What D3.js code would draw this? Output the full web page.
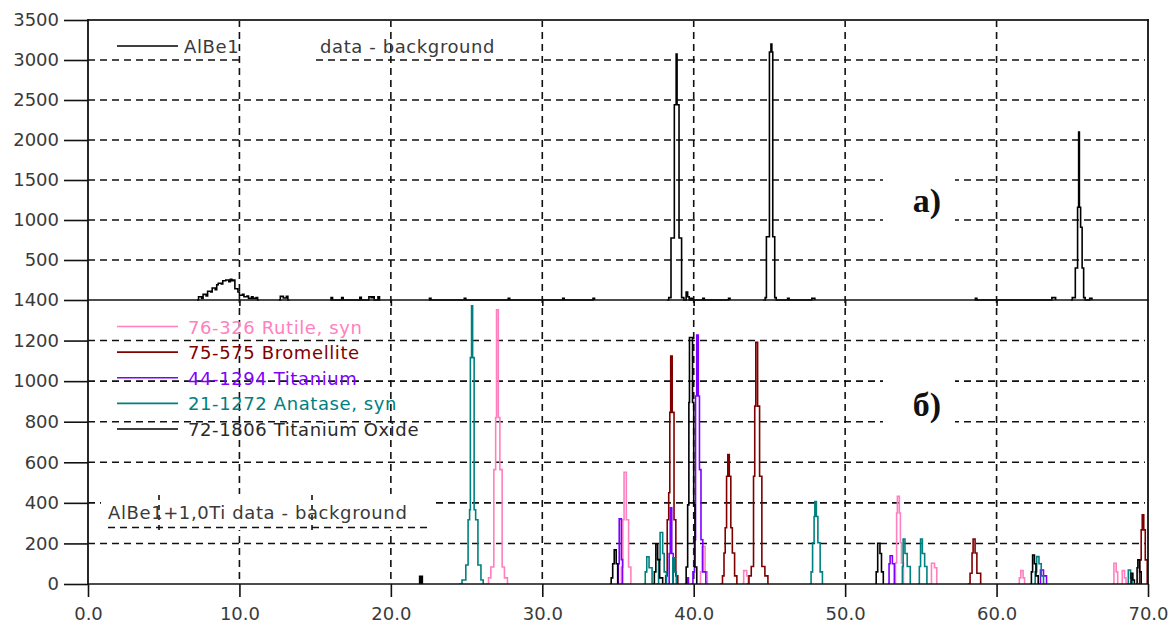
<!DOCTYPE html>
<html><head><meta charset="utf-8">
<script src="https://cdn.jsdelivr.net/npm/d3@7"></script>
<style>
html,body{margin:0;padding:0;background:#fff;}
svg{display:block;}
</style></head>
<body><svg id="chart" width="1169" height="625"></svg>
<script>
// ---------- DATA ----------
const xTicks = [0, 10, 20, 30, 40, 50, 60, 70];
const topTicks = [500, 1000, 1500, 2000, 2500, 3000, 3500];
const bottomTicks = [0, 200, 400, 600, 800, 1000, 1200, 1400];

const topLegend = ["AlBe1", "data - background"];
const panelLabels = ["a)", "б)"];
const bottomCaption = "AlBe1+1,0Ti data - background";

// (a) AlBe1 data - background : [2theta, counts], drawn as step outline
const alBe1 = [
  [[7.2,0],[7.3,40],[7.5,20],[7.6,70],[7.8,50],[7.9,110],[8.1,100],[8.2,150],[8.4,130],[8.5,190],[8.6,210],[8.8,200],[8.9,240],[9.1,250],[9.3,230],[9.4,260],[9.5,240],[9.6,250],[9.7,140],[9.9,100],[10.0,60],[10.2,70],[10.3,40],[10.5,50],[10.6,20],[10.8,40],[10.9,20],[11.1,30],[11.2,0],[11.3,0]],
  [[12.6,0],[12.7,45],[12.9,25],[13.1,45],[13.2,0],[13.3,0]],
  [[16.0,0],[16.05,30],[16.15,0],[16.7,0],[16.75,30],[16.85,0],[17.9,0],[17.95,35],[18.05,0],[18.5,0],[18.55,40],[18.7,30],[18.8,40],[18.9,0],[19.1,0],[19.15,40],[19.25,0],[19.3,0]],
  [[22.5,0],[22.55,20],[22.65,0],[24.8,0],[24.85,20],[24.95,0],[27.7,0],[27.75,20],[27.85,0],[31.3,0],[31.35,20],[31.45,0],[33.3,0],[33.35,20],[33.45,0]],
  [[38.25,0],[38.35,30],[38.5,775],[38.72,2440],[38.84,3075],[38.9,2440],[39.03,775],[39.2,30],[39.35,0],[39.45,0],[39.5,100],[39.6,40],[39.7,0],[39.8,20],[39.9,0],[40.55,0],[40.6,20],[40.7,0],[42.25,0],[42.3,20],[42.4,0]],
  [[44.6,0],[44.72,30],[44.8,790],[45.0,3100],[45.1,3200],[45.16,3100],[45.22,790],[45.35,30],[45.45,0],[45.6,0],[46.15,0],[46.2,20],[46.3,0],[47.75,0],[47.8,20],[47.95,20],[48.0,0]],
  [[58.55,0],[58.6,20],[58.7,0],[63.6,0],[63.65,30],[63.85,30],[63.9,0]],
  [[64.9,0],[65.0,30],[65.2,400],[65.35,1160],[65.42,2100],[65.47,1160],[65.55,910],[65.65,400],[65.75,30],[65.85,0],[66.1,0],[66.15,20],[66.3,0]]
];

// (б) reference patterns
const rutile = [
  [[26.3,0],[26.45,30],[26.6,84],[26.8,564],[26.92,821],[26.98,1352],[27.1,821],[27.2,564],[27.35,84],[27.5,30],[27.7,0]],
  [[35.15,0],[35.22,84],[35.32,317],[35.4,551],[35.55,317],[35.7,84],[35.85,0]],
  [[40.35,0],[40.45,60],[40.55,185],[40.75,60],[40.9,0]],
  [[43.2,0],[43.3,66],[43.5,40],[43.6,0]],
  [[53.25,0],[53.32,104],[53.4,350],[53.45,432],[53.58,350],[53.65,203],[53.72,104],[53.85,0]],
  [[55.6,0],[55.7,102],[55.9,80],[56.05,0]],
  [[61.4,0],[61.5,30],[61.6,66],[61.75,30],[61.85,0]],
  [[67.65,0],[67.75,102],[67.9,60],[68.0,0]],
  [[68.2,0],[68.3,66],[68.45,30],[68.55,0]]
];
const bromellite = [
  [[38.05,0],[38.15,40],[38.25,317],[38.35,450],[38.42,846],[38.48,1124],[38.58,846],[38.7,317],[38.82,40],[38.95,0]],
  [[41.75,0],[41.9,40],[42.0,153],[42.08,277],[42.17,531],[42.25,638],[42.35,531],[42.45,277],[42.55,153],[42.7,40],[42.85,0]],
  [[43.5,0],[43.65,40],[43.8,86],[43.95,531],[44.03,877],[44.1,1191],[44.22,877],[44.35,531],[44.5,86],[44.7,40],[44.9,0]],
  [[58.1,0],[58.25,53],[58.38,153],[58.45,222],[58.58,153],[58.7,53],[58.95,0]],
  [[69.35,0],[69.45,119],[69.55,267],[69.62,341],[69.72,267],[69.82,119],[69.95,0]]
];
const titanium = [
  [[34.95,0],[35.02,100],[35.08,321],[35.22,120],[35.3,0]],
  [[38.3,0],[38.38,150],[38.45,376],[38.55,150],[38.65,0]],
  [[39.45,0],[39.55,30],[39.65,0]],
  [[39.85,0],[39.95,60],[40.05,218],[40.12,927],[40.2,1227],[40.3,927],[40.38,564],[40.48,218],[40.6,60],[40.8,0]],
  [[52.83,0],[52.9,100],[52.97,139],[53.12,100],[53.25,0]],
  [[62.8,0],[62.9,69],[63.1,40],[63.3,0]]
];
const anatase = [
  [[24.5,0],[24.7,20],[24.95,94],[25.1,317],[25.2,366],[25.25,1116],[25.33,1372],[25.4,1116],[25.5,366],[25.6,317],[25.75,94],[25.95,20],[26.1,0]],
  [[36.7,0],[36.8,60],[36.9,134],[37.05,80],[37.25,0]],
  [[37.55,0],[37.68,120],[37.78,254],[37.95,150],[38.05,60],[38.2,0]],
  [[38.55,0],[38.62,129],[38.75,60],[38.85,0]],
  [[47.65,0],[47.75,60],[47.85,203],[47.95,333],[48.0,407],[48.1,333],[48.2,203],[48.35,60],[48.5,0]],
  [[53.7,0],[53.78,86],[53.83,222],[53.95,150],[54.1,86],[54.3,0]],
  [[54.8,0],[54.9,86],[54.98,222],[55.1,150],[55.25,86],[55.4,0]],
  [[62.45,0],[62.55,60],[62.65,135],[62.8,100],[62.95,40],[63.1,0]],
  [[68.6,0],[68.7,69],[68.85,30],[68.95,0]]
];
const titaniumOxide = [
  [[34.45,0],[34.55,30],[34.65,100],[34.75,168],[34.88,100],[34.98,0]],
  [[37.3,0],[37.4,60],[37.5,198],[37.62,120],[37.75,30],[37.95,0]],
  [[39.4,0],[39.5,84],[39.6,390],[39.68,895],[39.72,1215],[39.92,895],[40.0,390],[40.08,84],[40.2,0]],
  [[51.97,0],[52.05,60],[52.15,201],[52.3,150],[52.4,60],[52.52,0]],
  [[62.2,0],[62.3,60],[62.38,143],[62.5,100],[62.6,40],[62.75,0]],
  [[68.8,0],[68.88,53],[69.0,20],[69.1,0]],
  [[69.2,0],[69.28,80],[69.33,119],[69.45,60],[69.55,0]]
];
const sampleB = [
  [[21.9,0],[21.93,36],[22.05,0],[22.1,0]]
];

const bottomSeries = [
  {name: "76-326 Rutile, syn", color: "#ff7fbf", data: rutile},
  {name: "75-575 Bromellite", color: "#800000", data: bromellite},
  {name: "44-1294 Titanium", color: "#8000ff", data: titanium},
  {name: "21-1272 Anatase, syn", color: "#008080", data: anatase},
  {name: "72-1806 Titanium Oxide", color: "#000000", data: titaniumOxide}
];

// ---------- LAYOUT ----------
const svg = d3.select("#chart");
const L = 88, R = 1148, T = 20, MID = 300, B = 584;
const x = d3.scaleLinear().domain([0, 70]).range([L, R]);
const yTop = d3.scaleLinear().domain([0, 3500]).range([MID, T]);
const yBot = d3.scaleLinear().domain([0, 1400]).range([B, MID]);

const gridColor = "#111";
const dash = "7,5";
const sans = "'DejaVu Sans', sans-serif";
const serif = "'Liberation Serif', 'DejaVu Serif', serif";
const txtColor = "#3a3a3a";

svg.append("defs").append("clipPath").attr("id","plot")
  .append("rect").attr("x", L).attr("y", T).attr("width", R - L).attr("height", B - T);

// grid
const grid = svg.append("g").attr("stroke", gridColor).attr("stroke-width", 1.6).attr("stroke-dasharray", dash);
grid.selectAll("line.v").data(xTicks.filter(d => d > 0 && d < 70)).join("line")
  .attr("x1", d => x(d)).attr("x2", d => x(d)).attr("y1", T).attr("y2", B);
grid.selectAll("line.ht").data(topTicks.filter(d => d < 3500)).join("line")
  .attr("x1", L).attr("x2", R - 3).attr("y1", d => yTop(d)).attr("y2", d => yTop(d));
grid.selectAll("line.hb").data(bottomTicks.filter(d => d > 0 && d < 1400)).join("line")
  .attr("x1", L).attr("x2", R - 3).attr("y1", d => yBot(d)).attr("y2", d => yBot(d));

// white boxes behind labels
const box = svg.append("g").attr("fill", "#fff");
box.append("rect").attr("x", 243).attr("y", 28).attr("width", 73).attr("height", 37);
box.append("rect").attr("x", 883).attr("y", 160).attr("width", 72).attr("height", 75);
box.append("rect").attr("x", 883).attr("y", 365).attr("width", 72).attr("height", 75);
box.append("rect").attr("x", 101).attr("y", 494).attr("width", 335).attr("height", 36);

// shifted grid fragments inside bottom caption box
svg.append("g").attr("stroke", gridColor).attr("stroke-width", 1.6).attr("stroke-dasharray", "5,5")
  .selectAll("line").data([159, 312]).join("line")
  .attr("x1", d => d).attr("x2", d => d).attr("y1", 495).attr("y2", 532);
svg.append("line").attr("x1", 108).attr("x2", 428).attr("y1", 527.5).attr("y2", 527.5)
  .attr("stroke", gridColor).attr("stroke-width", 1.6).attr("stroke-dasharray", dash);

// peaks
const plot = svg.append("g").attr("clip-path", "url(#plot)");
const lineTop = d3.line().x(d => x(d[0])).y(d => yTop(d[1])).curve(d3.curveStepAfter);
const lineBot = d3.line().x(d => x(d[0])).y(d => yBot(d[1])).curve(d3.curveStepAfter);

plot.append("g").selectAll("path").data(alBe1).join("path")
  .attr("d", lineTop).attr("fill", "none").attr("stroke", "#000").attr("stroke-width", 1.6);

bottomSeries.forEach(s => {
  plot.append("g").selectAll("path").data(s.data).join("path")
    .attr("d", lineBot).attr("fill", "none").attr("stroke", s.color).attr("stroke-width", 1.6);
});
plot.append("g").selectAll("path").data(sampleB).join("path")
  .attr("d", lineBot).attr("fill", "none").attr("stroke", "#000").attr("stroke-width", 2.5);

// frame lines
const frame = svg.append("g").attr("stroke", "#111").attr("fill", "none");
frame.append("line").attr("x1", L).attr("x2", R + 1).attr("y1", T).attr("y2", T).attr("stroke-width", 2.2).attr("stroke", "#333");
frame.append("line").attr("x1", L).attr("x2", R + 1).attr("y1", MID).attr("y2", MID).attr("stroke-width", 1.6);
frame.append("line").attr("x1", L).attr("x2", R + 1).attr("y1", B).attr("y2", B).attr("stroke-width", 1.6);
frame.append("line").attr("x1", L).attr("x2", L).attr("y1", T - 1).attr("y2", B).attr("stroke-width", 1.8);
frame.append("line").attr("x1", R).attr("x2", R).attr("y1", T - 1).attr("y2", B).attr("stroke-width", 1.8);

// axes
function styleAxis(g) {
  g.select(".domain").remove();
  g.selectAll(".tick line").attr("stroke", "#111").attr("stroke-width", 1.6);
  g.selectAll(".tick text").attr("fill", txtColor).style("font-size", "18px").style("font-family", sans);
}
svg.append("g").attr("transform", `translate(${L},0)`)
  .call(d3.axisLeft(yTop).tickValues(topTicks).tickSize(24).tickPadding(5).tickFormat(d3.format("d")))
  .call(styleAxis);
svg.append("g").attr("transform", `translate(${L},0)`)
  .call(d3.axisLeft(yBot).tickValues(bottomTicks).tickSize(24).tickPadding(5).tickFormat(d3.format("d")))
  .call(styleAxis);
svg.append("g").attr("transform", `translate(0,${B})`)
  .call(d3.axisBottom(x).tickValues(xTicks).tickSize(13).tickPadding(10).tickFormat(d3.format(".1f")))
  .call(styleAxis);
svg.append("g").attr("transform", `translate(0,${MID})`)
  .call(d3.axisBottom(x).tickValues(xTicks.filter(d => d > 0 && d < 70)).tickSize(6).tickFormat(""))
  .call(styleAxis);

function txt(sel) {
  return sel.style("font-family", sans).style("font-size", "18px").style("letter-spacing", "0.6px");
}

// legend (top)
const lg = svg.append("g");
lg.append("line").attr("x1", 117).attr("x2", 178).attr("y1", 46).attr("y2", 46).attr("stroke", "#000").attr("stroke-width", 1.6);
lg.append("text").attr("x", 184).attr("y", 53).attr("fill", txtColor).call(txt).text(topLegend[0]);
lg.append("text").attr("x", 320).attr("y", 53).attr("fill", txtColor).call(txt).text(topLegend[1]);

// legend (bottom)
const legY = d3.scalePoint().domain(bottomSeries.map(s => s.name)).range([326.5, 429]);
const lb = svg.append("g").selectAll("g").data(bottomSeries).join("g")
  .attr("transform", d => `translate(0,${legY(d.name)})`);
lb.append("line").attr("x1", 117).attr("x2", 178).attr("stroke", d => d.color).attr("stroke-width", 1.6);
lb.append("text").attr("x", 188).attr("y", 7).call(txt)
  .attr("fill", d => d.color === "#000000" ? "#2a2a2a" : d.color).text(d => d.name);

svg.append("text").attr("x", 108).attr("y", 519).attr("fill", txtColor).call(txt).text(bottomCaption);

// panel labels
[[panelLabels[0], 212], [panelLabels[1], 416]].forEach(([t, yy]) => {
  svg.append("text").attr("x", 927).attr("y", yy).attr("text-anchor", "middle")
    .style("font-family", serif).style("font-weight", "bold").style("font-size", "34px")
    .attr("fill", "#111").text(t);
});
</script>
</body></html>
